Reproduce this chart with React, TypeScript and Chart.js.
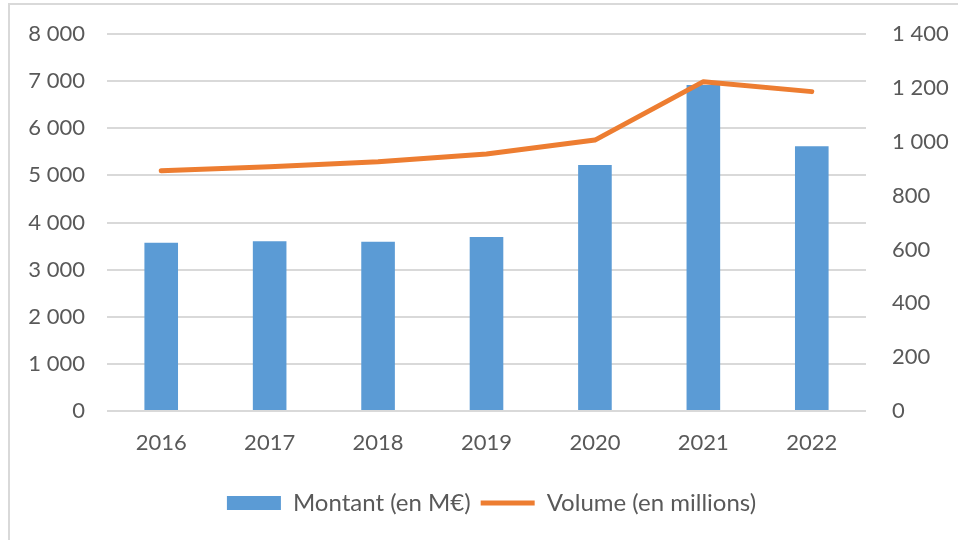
import React, { useEffect, useRef } from "react";
import { Chart, registerables } from "chart.js";

Chart.register(...registerables);

const years = ["2016", "2017", "2018", "2019", "2020", "2021", "2022"];
const montant = [3570, 3600, 3590, 3690, 5220, 6920, 5620];
const volume = [892, 907, 926, 954, 1006, 1223, 1186];
const montantLabel = "Montant (en M€)";
const volumeLabel = "Volume (en millions)";

const FONT = "Lato, 'Liberation Sans', sans-serif";
const TEXT = "#595959";
const GRID = "#d9d9d9";

const fmt = (v: number) => {
  const s = Math.round(v).toString();
  return s.replace(/\B(?=(\d{3})+(?!\d))/g, " ");
};

const borderPlugin = {
  id: "outerBorder",
  beforeDraw(chart: any) {
    const ctx = chart.ctx;
    ctx.save();
    ctx.fillStyle = "#ffffff";
    ctx.fillRect(0, 0, chart.width, chart.height);
    ctx.strokeStyle = "#d9d9d9";
    ctx.lineWidth = 2;
    ctx.beginPath();
    ctx.moveTo(9, chart.height);
    ctx.lineTo(9, 4);
    ctx.lineTo(chart.width, 4);
    ctx.stroke();
    ctx.restore();
  },
};

export default function App() {
  const ref = useRef<HTMLCanvasElement | null>(null);
  useEffect(() => {
    if (!ref.current) return;
    const chart = new Chart(ref.current, {
      type: "bar",
      data: {
        labels: years,
        datasets: [
          {
            type: "bar",
            label: montantLabel,
            data: montant,
            backgroundColor: "#5B9BD5",
            borderWidth: 0,
            yAxisID: "y",
            order: 1,
            pointStyle: "rect",
            categoryPercentage: 1,
            barPercentage: 0.31,
          } as any,
          {
            type: "line",
            label: volumeLabel,
            data: volume,
            borderColor: "#ED7D31",
            backgroundColor: "#ED7D31",
            borderWidth: 5,
            borderCapStyle: "round",
            borderJoinStyle: "round",
            pointRadius: 0,
            pointHoverRadius: 0,
            pointStyle: "line",
            tension: 0,
            yAxisID: "y1",
            order: 0,
          } as any,
        ],
      },
      options: {
        responsive: false,
        animation: false,
        devicePixelRatio: 1,
        layout: { padding: { left: 25, right: 0, top: 34, bottom: 15 } },
        plugins: {
          tooltip: { enabled: false },
          legend: {
            position: "bottom",
            labels: {
              usePointStyle: true,
              pointStyleWidth: 54,
              boxHeight: 14,
              padding: 10,
              color: TEXT,
              font: { family: FONT, size: 24 },
              sort: (a: any, b: any) => a.datasetIndex - b.datasetIndex,
            },
          },
        },
        scales: {
          x: {
            grid: { display: false, drawTicks: false },
            border: { display: false },
            ticks: { color: TEXT, font: { family: FONT, size: 22 }, padding: 19 },
            afterFit: (s: any) => {
              s.height = 70;
              s.paddingLeft = 0;
              s.paddingRight = 0;
            },
          },
          y: {
            position: "left",
            min: 0,
            max: 8000,
            grid: { color: GRID, lineWidth: 2, drawTicks: false },
            border: { display: false },
            ticks: {
              stepSize: 1000,
              padding: 22,
              color: TEXT,
              font: { family: FONT, size: 22 },
              callback: (v: any) => fmt(Number(v)),
            },
            afterFit: (s: any) => {
              s.width = 82;
              s.paddingTop = 0;
              s.paddingBottom = 0;
            },
          },
          y1: {
            position: "right",
            min: 0,
            max: 1400,
            grid: { display: false, drawTicks: false },
            border: { display: false },
            ticks: {
              stepSize: 200,
              padding: 26,
              color: TEXT,
              font: { family: FONT, size: 22 },
              callback: (v: any) => fmt(Number(v)),
            },
            afterFit: (s: any) => {
              s.width = 92;
              s.paddingTop = 0;
              s.paddingBottom = 0;
            },
          },
        },
      },
      plugins: [borderPlugin],
    } as any);
    return () => chart.destroy();
  }, []);
  return (
    <div style={{ position: "fixed", left: 0, top: 0, width: 958, height: 540, background: "#fff" }}>
      <canvas ref={ref} width={958} height={540} />
    </div>
  );
}
